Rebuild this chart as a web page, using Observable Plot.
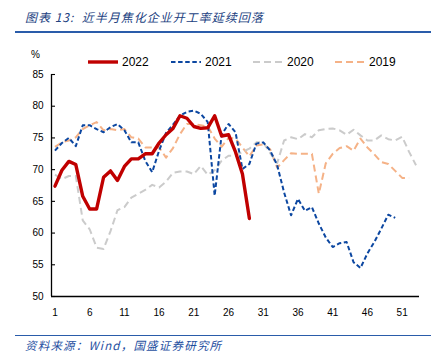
<!DOCTYPE html>
<html><head><meta charset="utf-8">
<script src="https://cdn.jsdelivr.net/npm/d3@7"></script>
<script src="https://cdn.jsdelivr.net/npm/@observablehq/plot@0.6"></script>
<style>
body{margin:0;background:#fff;}
#wrap{position:relative;width:445px;height:363px;overflow:hidden;background:#fff;font-family:"Liberation Sans",Arial,sans-serif;}
#title{position:absolute;left:25px;top:8px;font-family:"Noto Sans CJK SC",sans-serif;font-style:italic;font-size:12px;color:#22417f;white-space:nowrap;letter-spacing:1px;}
#titleRule{position:absolute;left:15px;top:31px;width:416px;height:2px;background:#2a5caa;}
#srcRule{position:absolute;left:15px;top:335px;width:416px;height:1px;background:#2a5caa;}
#source{position:absolute;left:25px;top:337px;font-family:"Noto Sans CJK SC",sans-serif;font-style:italic;font-size:11.5px;color:#1f4f9f;white-space:nowrap;letter-spacing:1.2px;}
#pct{position:absolute;left:31px;top:49px;font-size:10px;color:#000;}
#legend{position:absolute;left:0;top:54px;width:445px;height:18px;}
.lg{position:absolute;top:0;display:flex;align-items:center;font-size:12px;color:#000;}
#chart{position:absolute;left:0;top:64px;}
</style>
</head><body>
<div id="wrap">
  <div id="title">图表 13:&nbsp; 近半月焦化企业开工率延续回落</div>
  <div id="titleRule"></div>
  <div id="pct">%</div>
  <div id="legend"></div>
  <div id="chart"></div>
  <div id="srcRule"></div>
  <div id="source">资料来源：Wind，国盛证券研究所</div>
</div>
<script>
// ---- data (weekly operating rate, %) ----
const seriesNames = ["2022", "2021", "2020", "2019"];
const values2022 = [67.4, 69.9, 71.3, 70.8, 65.8, 63.8, 63.8, 68.8, 69.8, 68.3,
  70.5, 71.7, 71.7, 72.5, 72.5, 74.2, 75.5, 76.5, 78.5, 78.1,
  76.8, 76.5, 76.6, 78.5, 75.3, 75.5, 72.8, 69.3, 62.3];
const values2021 = [73.0, 74.2, 75.0, 73.7, 77.0, 77.0, 76.4, 75.9, 76.7, 77.2,
  76.2, 74.3, 74.3, 71.4, 69.6, 73.0, 75.8, 77.1, 78.5, 79.1,
  79.3, 78.8, 77.5, 65.9, 75.5, 77.2, 75.9, 70.1, 70.9, 74.1,
  74.3, 73.0, 70.7, 66.4, 62.8, 65.4, 63.5, 64.1, 61.5, 59.3,
  57.8, 58.4, 58.6, 55.4, 54.5, 56.8, 58.6, 60.7, 62.9, 62.4];
const values2020 = [69.2, 68.5, 69.0, 69.0, 62.0, 60.6, 57.7, 57.5, 60.3, 63.6,
  64.1, 65.6, 66.2, 66.8, 67.6, 67.2, 68.1, 69.5, 69.7, 69.7,
  69.3, 70.6, 69.2, 69.9, 71.4, 72.2, 72.2, 72.8, 73.3, 74.3,
  74.3, 72.6, 71.0, 74.6, 75.1, 74.8, 75.6, 75.1, 76.2, 76.4,
  76.5, 76.2, 75.5, 76.3, 75.4, 74.6, 74.6, 75.4, 74.8, 74.6,
  75.2, 72.8, 70.7];
const values2019 = [73.6, 74.3, 74.6, 75.1, 76.4, 77.0, 77.5, 76.2, 76.4, 76.2,
  76.4, 75.1, 74.9, 73.5, 73.5, 73.5, 71.9, 73.4, 75.6, 77.2,
  77.2, 77.0, 76.8, 74.9, 73.6, 75.0, 74.9, 73.5, 72.1, 73.8,
  74.0, 73.2, 70.3, 71.5, 72.6, 72.5, 72.5, 72.5, 66.2, 71.0,
  72.5, 73.4, 73.7, 73.0, 74.9, 73.5, 72.4, 71.2, 70.9, 69.8,
  68.7, 68.7];
const xTicks = [1, 6, 11, 16, 21, 26, 31, 36, 41, 46, 51];
const yTicks = [50, 55, 60, 65, 70, 75, 80, 85];
const xDomain = [0.5, 53.5];
const yDomain = [50, 85];

// ---- styles ----
const styles = {
  "2022": {stroke: "#c00000", strokeWidth: 3.4, dash: null},
  "2021": {stroke: "#0c47a1", strokeWidth: 2, dash: "4.5,2.6"},
  "2020": {stroke: "#cbcbcb", strokeWidth: 2, dash: "7,4"},
  "2019": {stroke: "#f5b287", strokeWidth: 2, dash: "7,4"}
};

const toRows = (vals, name) => vals.map((v, i) => ({week: i + 1, value: v, series: name}));
const data = {
  "2022": toRows(values2022, "2022"),
  "2021": toRows(values2021, "2021"),
  "2020": toRows(values2020, "2020"),
  "2019": toRows(values2019, "2019")
};

const width = 445, height = 254;
const mL = 51, mR = 26, mT = 10, mB = 22;
const plotW = width - mL - mR;

const lineMark = (name) => Plot.line(data[name], {
  x: "week", y: "value",
  stroke: styles[name].stroke,
  strokeWidth: styles[name].strokeWidth,
  strokeDasharray: styles[name].dash,
  strokeLinejoin: "round",
  strokeLinecap: name === "2022" ? "round" : "butt"
});

const chart = Plot.plot({
  width, height,
  marginLeft: mL, marginRight: mR, marginTop: mT, marginBottom: mB,
  style: {fontFamily: '"Liberation Sans", Arial, sans-serif', fontSize: "10px", color: "#000", background: "transparent"},
  x: {domain: xDomain, label: null},
  y: {domain: yDomain, label: null},
  marks: [
    Plot.axisX(xTicks, {tickSize: 0, tickPadding: 12, fill: "#000", fontSize: 10}),
    Plot.axisY(yTicks, {tickSize: 0, tickPadding: 8, fill: "#000", fontSize: 10}),
    Plot.tickY(yTicks, {y: d => d, stroke: "#000", strokeWidth: 1.1, insetRight: plotW - 4}),
    lineMark("2019"),
    lineMark("2020"),
    lineMark("2021"),
    lineMark("2022"),
    Plot.ruleX([xDomain[0]], {stroke: "#000", strokeWidth: 1.3}),
    Plot.ruleY([yDomain[0]], {stroke: "#000", strokeWidth: 1.3})
  ]
});
document.getElementById("chart").appendChild(chart);

// ---- legend ----
const legendPos = {"2022": 88, "2021": 171, "2020": 253, "2019": 335};
const legend = document.getElementById("legend");
for (const name of seriesNames) {
  const s = styles[name];
  const item = document.createElement("div");
  item.className = "lg";
  item.style.left = legendPos[name] + "px";
  item.innerHTML = `<svg width="30" height="16" style="margin-right:4px"><line x1="0" x2="30" y1="8" y2="8" stroke="${s.stroke}" stroke-width="${name === "2022" ? 3.4 : 2}" ${s.dash ? `stroke-dasharray="${s.dash}"` : ""}/></svg><span>${name}</span>`;
  legend.appendChild(item);
}
</script>
</body></html>
